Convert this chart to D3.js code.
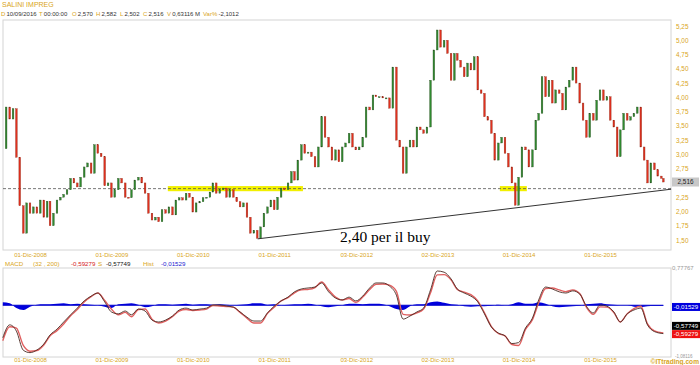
<!DOCTYPE html>
<html>
<head>
<meta charset="utf-8">
<script src="https://cdn.jsdelivr.net/npm/d3@7"></script>
<style>
  body { margin: 0; background: #fff; }
  svg { display: block; font-family: "Liberation Sans", Arial, sans-serif; }
</style>
</head>
<body>
<svg id="chart" width="700" height="365"></svg>
<script>
// semi-monthly closes (1st and 16th of each month)
const closes2008 = [3.10, 3.83, 3.62, 3.80, 2.95, 2.10, 1.62, 2.15, 1.97, 2.08] // from Aug
const closes2009 = [1.97, 2.20, 1.90, 2.18, 1.75, 1.97, 2.20, 2.25, 2.30, 2.38, 2.58, 2.50, 2.43, 2.60, 2.78, 2.85, 2.67, 3.17, 3.02, 2.96, 2.45, 2.50, 2.25, 2.38]
const closes2010 = [2.58, 2.50, 2.25, 2.24, 2.38, 2.55, 2.60, 2.50, 2.32, 1.97, 1.85, 1.90, 1.82, 2.03, 1.97, 2.08, 1.94, 2.20, 2.24, 2.20, 2.32, 2.25, 1.99, 2.15]
const closes2011 = [2.17, 2.24, 2.25, 2.34, 2.50, 2.32, 2.38, 2.41, 2.25, 2.38, 2.25, 2.17, 2.08, 2.15, 1.90, 1.62, 1.67, 1.53, 1.73, 1.97, 2.08, 2.20, 2.03, 2.25]
const closes2012 = [2.41, 2.38, 2.50, 2.70, 2.55, 2.90, 3.17, 3.02, 3.04, 2.96, 2.78, 3.13, 3.66, 3.30, 3.13, 2.90, 3.08, 2.87, 3.13, 3.20, 3.37, 3.13, 3.08, 3.13]
const closes2013 = [3.30, 3.83, 3.78, 4.04, 4.01, 4.01, 3.99, 3.99, 3.81, 4.53, 3.25, 3.13, 2.67, 3.13, 3.25, 3.13, 3.48, 3.43, 3.37, 3.48, 4.30, 4.83, 5.18, 4.88]
const closes2014 = [5.00, 4.77, 4.30, 4.77, 4.65, 4.53, 4.36, 4.60, 4.48, 4.71, 4.13, 4.07, 3.66, 3.60, 3.37, 2.90, 3.20, 3.30, 3.02, 2.78, 2.50, 2.11, 2.60, 3.13]
const closes2015 = [3.08, 2.78, 3.08, 3.60, 3.72, 4.36, 4.01, 4.30, 3.90, 4.13, 4.07, 3.78, 4.18, 4.30, 4.53, 4.25, 3.90, 3.60, 3.30, 3.72, 3.60, 3.95, 4.13, 3.95]
const closes2016 = [4.01, 3.60, 3.48, 2.96, 3.43, 3.72, 3.60, 3.66, 3.72, 3.83, 3.13, 2.90, 2.50, 2.85, 2.73, 2.62, 2.58]

// last bar: date, open, high, low, close, volume (M), var%
const lastDate = '2016-09-10'
const lastBar = [2.570, 2.582, 2.502, 2.516]
const lastVolume = 0.63116
const lastVarPct = -2.1012

// monthly MACD (32, 200) and histogram, Aug 2008 -> Sep 2016
const macd2008 = [-0.68, -0.41, -0.54, -0.94, -0.99]
const macd2009 = [-0.935, -0.81, -0.62, -0.50, -0.35, -0.20, -0.06, 0.09, 0.19, 0.255, 0.07, -0.14]
const macd2010 = [-0.18, -0.12, -0.20, -0.08, -0.12, -0.31, -0.35, -0.31, -0.225, -0.10, -0.06, -0.10]
const macd2011 = [-0.08, -0.06, 0.005, 0.005, -0.016, -0.04, -0.14, -0.25, -0.33, -0.33, -0.16, -0.02]
const macd2012 = [0.09, 0.17, 0.28, 0.34, 0.36, 0.38, 0.465, 0.28, 0.15, 0.11, 0.17, 0.09]
const macd2013 = [0.19, 0.36, 0.465, 0.465, 0.40, 0.21, -0.29, -0.225, -0.14, -0.06, 0.32, 0.715]
const macd2014 = [0.69, 0.55, 0.34, 0.255, 0.19, 0.07, -0.18, -0.455, -0.58, -0.64, -0.80, -0.78]
const macd2015 = [-0.475, -0.27, 0.11, 0.38, 0.34, 0.28, 0.255, 0.30, 0.235, -0.02, -0.16, 0.005]
const macd2016 = [-0.02, -0.14, -0.35, -0.18, -0.10, -0.06, -0.41, -0.55, -0.59279]

const hist2008 = [0.06, 0.04, -0.06, -0.10, -0.03]
const hist2009 = [0.01, 0.02, 0.02, 0.03, 0.04, 0.02, 0.03, 0.02, 0.01, 0.00, -0.03, -0.06]
const hist2010 = [0.02, 0.03, 0.04, 0.01, -0.04, -0.02, 0.02, 0.02, 0.01, 0.02, 0.03, 0.01]
const hist2011 = [0.02, 0.02, 0.01, 0.02, 0.01, 0.00, 0.01, 0.02, 0.04, 0.04, 0.01, 0.02]
const hist2012 = [0.00, 0.01, 0.02, 0.02, 0.03, 0.01, -0.02, -0.04, -0.02, 0.00, 0.03, 0.03]
const hist2013 = [0.02, 0.03, 0.03, 0.02, -0.02, -0.08, -0.10, -0.02, 0.02, 0.02, 0.06, 0.08]
const hist2014 = [0.05, 0.02, 0.01, -0.02, -0.03, -0.02, -0.02, -0.01, 0.01, 0.00, 0.02, 0.06]
const hist2015 = [0.03, 0.03, 0.06, 0.03, -0.02, -0.04, -0.03, -0.02, -0.01, 0.02, 0.03, 0.04]
const hist2016 = [0.02, 0.01, 0.00, 0.00, -0.03, -0.04, -0.02, -0.015, -0.01529]

const macdLast = -0.59279
const signalLast = -0.57749
const histLast = -0.01529
const macdRange = [-1.08116, 0.77767]

// axis ticks (2,50 is hidden behind the last-price box)
const dateTicks = ['2008-12-01', '2009-12-01', '2010-12-01', '2011-12-01', '2012-12-03', '2013-12-02', '2014-12-01', '2015-12-01']
const priceTicks = [1.50, 1.75, 2.00, 2.25, 2.75, 3.00, 3.25, 3.50, 3.75, 4.00, 4.25, 4.50, 4.75, 5.00, 5.25]

// annotations
const buyLevel = 2.40
const yellowZones = [['2010-08-11', '2012-04-08'], ['2014-09-08', '2015-01-07']]
const trendLine = [['2011-09-18', 1.52], ['2016-10-15', 2.39]]

const parse = d3.timeParse('%Y-%m-%d')
const itMonths = ['Gen', 'Feb', 'Mar', 'Apr', 'Mag', 'Giu', 'Lug', 'Ago', 'Set', 'Ott', 'Nov', 'Dic']
const fmtDate = d => d3.timeFormat('%d')(d) + '-' + itMonths[d.getMonth()] + '-' + d.getFullYear()
const comma = (v, n) => v.toFixed(n).replace('.', ',')

function semiMonthly (year, startMonth, values) {
  return values.map((v, i) => ({ date: new Date(year, startMonth + Math.floor(i / 2), i % 2 ? 16 : 1), value: v }))
}
function monthly (year, startMonth, values) {
  return values.map((v, i) => ({ date: new Date(year, startMonth + i, 1), value: v }))
}

const closes = [].concat(
  semiMonthly(2008, 7, closes2008), semiMonthly(2009, 0, closes2009), semiMonthly(2010, 0, closes2010),
  semiMonthly(2011, 0, closes2011), semiMonthly(2012, 0, closes2012), semiMonthly(2013, 0, closes2013),
  semiMonthly(2014, 0, closes2014), semiMonthly(2015, 0, closes2015), semiMonthly(2016, 0, closes2016),
  [{ date: parse(lastDate), value: lastBar[3] }]
)
const macd = [].concat(
  monthly(2008, 7, macd2008), monthly(2009, 0, macd2009), monthly(2010, 0, macd2010), monthly(2011, 0, macd2011),
  monthly(2012, 0, macd2012), monthly(2013, 0, macd2013), monthly(2014, 0, macd2014), monthly(2015, 0, macd2015),
  monthly(2016, 0, macd2016)
)
const hist = [].concat(
  monthly(2008, 7, hist2008), monthly(2009, 0, hist2009), monthly(2010, 0, hist2010), monthly(2011, 0, hist2011),
  monthly(2012, 0, hist2012), monthly(2013, 0, hist2013), monthly(2014, 0, hist2014), monthly(2015, 0, hist2015),
  monthly(2016, 0, hist2016)
)
macd[macd.length - 1].date = parse(lastDate)
hist[hist.length - 1].date = parse(lastDate)
const signal = macd.map((d, i) => ({ date: d.date, value: d.value - hist[i].value }))

const svg = d3.select('#chart')
const gold = '#d9a521'
const left = 3
const right = 671
const main = { top: 20, bottom: 250 }
const low = { top: 268, bottom: 357 }

const x = d3.scaleTime()
  .domain([parse('2008-12-01'), parse('2015-12-01')])
  .range([30, 600])
const y = d3.scaleLinear().domain([1.5, 5.25]).range([240, 26])
const yM = d3.scaleLinear().domain(macdRange).range([low.bottom, low.top])

// panel frames
svg.append('rect').attr('x', left).attr('y', main.top).attr('width', right - left).attr('height', main.bottom - main.top)
  .attr('fill', 'none').attr('stroke', '#d4d4d4')
svg.append('rect').attr('x', left).attr('y', low.top).attr('width', right - left).attr('height', low.bottom - low.top)
  .attr('fill', 'none').attr('stroke', '#d4d4d4')

// header
svg.append('text').attr('x', 2).attr('y', 7).style('font-size', '7px').attr('fill', gold).text('SALINI IMPREG')
const info = [['D', lastDate.split('-').reverse().join('/')], ['T', '00:00:00'], ['O', comma(lastBar[0], 3)],
  ['H', comma(lastBar[1], 3)], ['L', comma(lastBar[2], 3)], ['C', comma(lastBar[3], 3)],
  ['V', comma(lastVolume, 5) + ' M'], ['Var%', comma(lastVarPct, 4)]]
const infoX = [1, 39, 72, 96, 120, 143, 167, 203]
info.forEach(([k, v], i) => {
  const t = svg.append('text').attr('x', infoX[i]).attr('y', 16).style('font-size', '6px')
  t.append('tspan').attr('fill', gold).text(k)
  t.append('tspan').attr('fill', '#333').attr('dx', 1.2).text(v)
})

// yellow zones and buy level
yellowZones.forEach(z => {
  svg.append('rect')
    .attr('x', x(parse(z[0]))).attr('width', x(parse(z[1])) - x(parse(z[0])))
    .attr('y', y(buyLevel + 0.045)).attr('height', y(buyLevel - 0.045) - y(buyLevel + 0.045))
    .attr('fill', '#f2f000')
})
svg.append('line')
  .attr('x1', left).attr('x2', right).attr('y1', y(buyLevel)).attr('y2', y(buyLevel))
  .attr('stroke', '#555').attr('stroke-width', 0.8).attr('stroke-dasharray', '3,2')

// candles: open = previous close
const bw = 1.7
svg.append('g').selectAll('rect')
  .data(closes.slice(1).map((d, i) => ({ date: d.date, open: closes[i].value, close: d.value })))
  .join('rect')
  .attr('x', d => x(d.date) - bw / 2)
  .attr('width', bw)
  .attr('y', d => y(Math.max(d.open, d.close)))
  .attr('height', d => Math.max(1, Math.abs(y(d.open) - y(d.close))))
  .attr('fill', d => d.close >= d.open ? '#2f8a2f' : '#e0301e')
  .attr('stroke', d => d.close >= d.open ? '#2b4a22' : '#8a2a18')
  .attr('stroke-width', 0.35)

// trend line
svg.append('line')
  .attr('x1', x(parse(trendLine[0][0]))).attr('y1', y(trendLine[0][1]))
  .attr('x2', x(parse(trendLine[1][0]))).attr('y2', y(trendLine[1][1]))
  .attr('stroke', '#333').attr('stroke-width', 1)

svg.append('text')
  .attr('x', 340).attr('y', 242)
  .style('font-family', '"Liberation Serif", "Times New Roman", serif')
  .style('font-size', '15.5px').attr('fill', '#000')
  .text(comma(buyLevel, 2) + ' per il buy')

// price axis
const yAxis = svg.append('g').attr('transform', `translate(${right},0)`)
  .call(d3.axisRight(y).tickValues(priceTicks).tickSize(0).tickPadding(5).tickFormat(d => comma(d, 2)))
yAxis.select('.domain').remove()
yAxis.selectAll('text').attr('fill', gold).style('font-size', '6.4px').style('font-family', 'inherit')

const lastY = y(lastBar[3])
svg.append('rect').attr('x', right + 1).attr('y', lastY - 4.5).attr('width', 27).attr('height', 9).attr('fill', '#c8c8c8')
svg.append('text').attr('x', right + 14.5).attr('y', lastY + 2.2).attr('text-anchor', 'middle')
  .style('font-size', '6.4px').attr('fill', '#222').text(comma(lastBar[3], 3))

// date axes
;[252.5, 357.5].forEach(ty => {
  const g = svg.append('g').attr('transform', `translate(0,${ty})`)
    .call(d3.axisBottom(x).tickValues(dateTicks.map(parse)).tickSize(0).tickPadding(0).tickFormat(fmtDate))
  g.select('.domain').remove()
  g.selectAll('text').attr('fill', gold).style('font-size', '6px').style('font-family', 'inherit')
})

// MACD legend
const legItems = [['MACD', gold, 5], ['(32 , 200)', gold, 33], [comma(macdLast, 5), '#d42020', 71], ['S', gold, 98],
  [comma(signalLast, 5), '#111', 106], ['Hist', gold, 143], [comma(histLast, 5), '#1a1ad0', 161]]
legItems.forEach(([t, c, lx]) => {
  svg.append('text').attr('x', lx).attr('y', 265.5).style('font-size', '6.2px').attr('fill', c).text(t)
})

// MACD histogram and zero line
svg.append('path').datum(hist)
  .attr('d', d3.area().x(d => x(d.date)).y0(yM(0)).y1(d => yM(d.value)).curve(d3.curveMonotoneX))
  .attr('fill', '#0000dd')
svg.append('line')
  .attr('x1', x(hist[0].date)).attr('x2', x(hist[hist.length - 1].date))
  .attr('y1', yM(0)).attr('y2', yM(0))
  .attr('stroke', '#0000cc').attr('stroke-width', 1.2)

const mLine = d3.line().x(d => x(d.date)).y(d => yM(d.value)).curve(d3.curveMonotoneX)
svg.append('path').datum(signal).attr('d', mLine).attr('fill', 'none').attr('stroke', '#e06060').attr('stroke-width', 1.4)
svg.append('path').datum(macd).attr('d', mLine).attr('fill', 'none').attr('stroke', '#4a2a22').attr('stroke-width', 0.9)

// MACD right side labels
svg.append('text').attr('x', right + 1).attr('y', low.top + 2).style('font-size', '6px').attr('fill', '#999').text(comma(macdRange[1], 5))
svg.append('text').attr('x', right + 4).attr('y', low.bottom + 1).style('font-size', '4.5px').attr('fill', '#999').text(comma(macdRange[0], 5))

const boxes = [[histLast, '#0000dd', yM(histLast) + 1], [signalLast, '#000', yM(signalLast) - 7], [macdLast, '#ee1111', yM(macdLast) + 0.5]]
boxes.forEach(([v, c, cy]) => {
  svg.append('rect').attr('x', right + 1).attr('y', cy - 4).attr('width', 28).attr('height', 8).attr('fill', c)
  svg.append('text').attr('x', right + 15).attr('y', cy + 2.2).attr('text-anchor', 'middle')
    .style('font-size', '6.2px').attr('fill', '#fff').text(comma(v, 5))
})

svg.append('text').attr('x', 699).attr('y', 363.5).attr('text-anchor', 'end')
  .style('font-size', '6.6px').style('font-weight', 'bold').attr('fill', gold).text('©ITtrading.com')
</script>
</body>
</html>
